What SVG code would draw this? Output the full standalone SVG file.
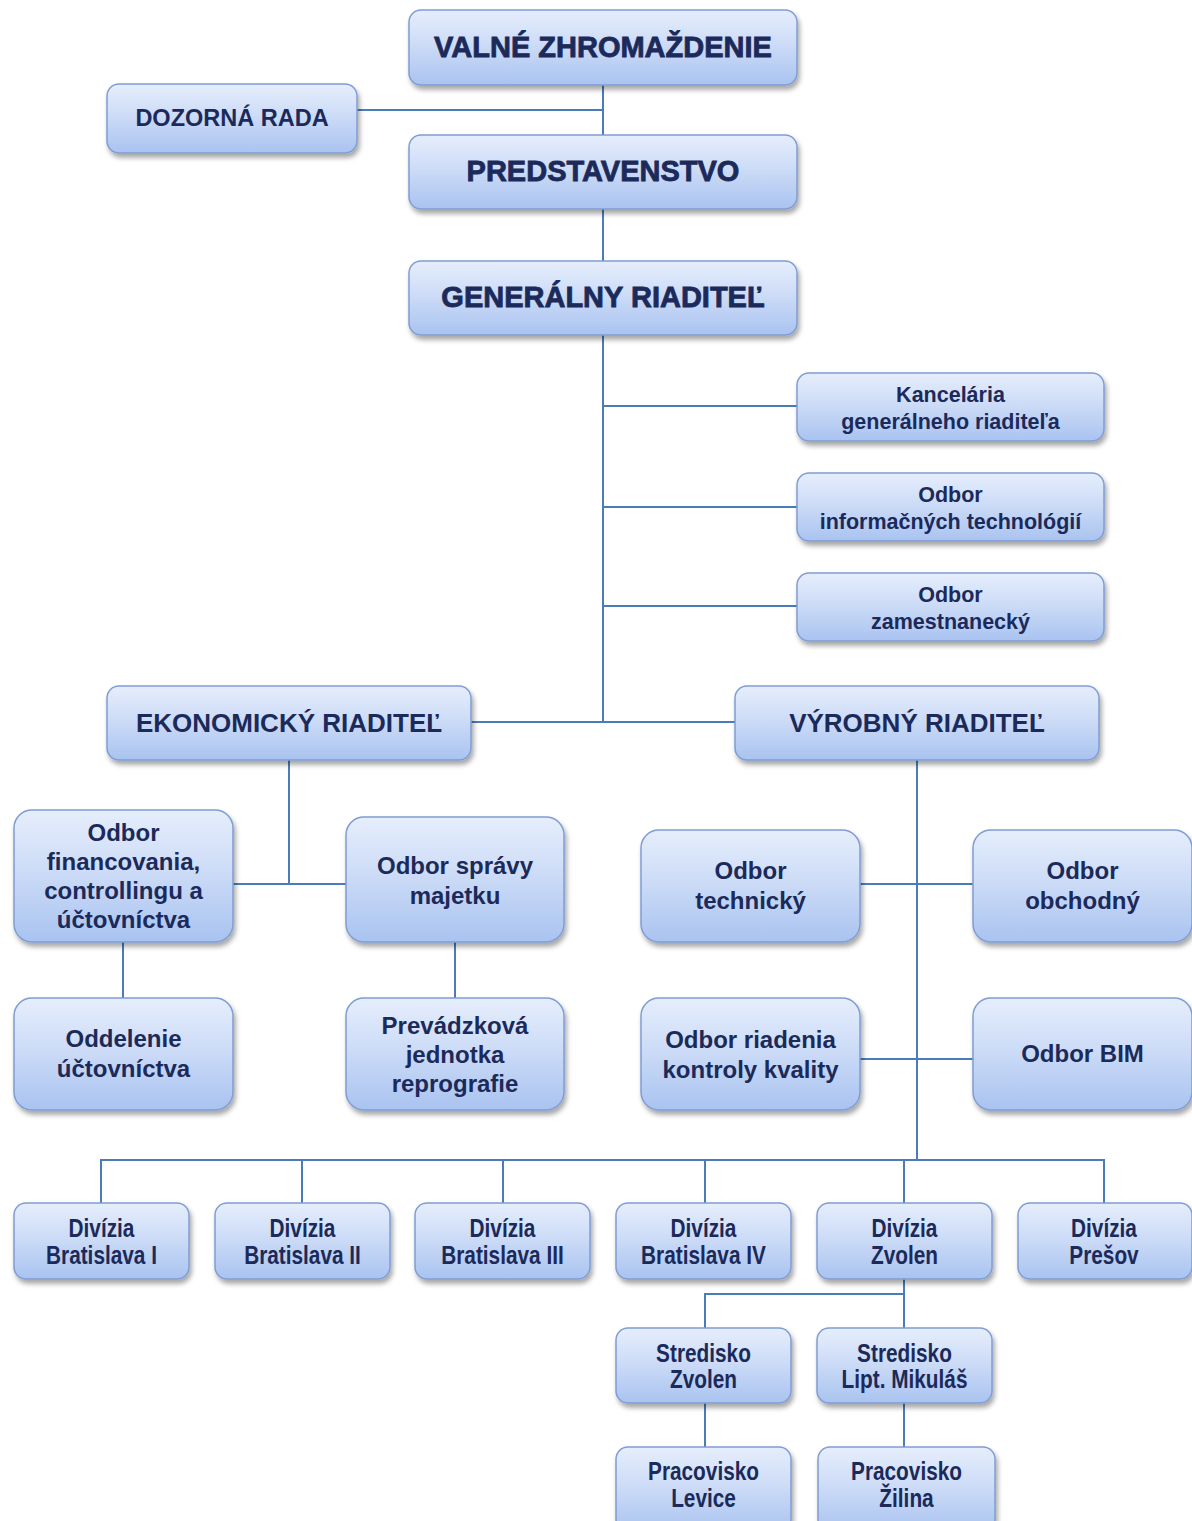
<svg xmlns="http://www.w3.org/2000/svg" width="1192" height="1521" viewBox="0 0 1192 1521">
<defs>
<linearGradient id="g" x1="0" y1="0" x2="0" y2="1">
<stop offset="0" stop-color="#e6eefc"/>
<stop offset="0.45" stop-color="#cddcf7"/>
<stop offset="1" stop-color="#a9c3f0"/>
</linearGradient>
<filter id="sh" x="-10%" y="-10%" width="125%" height="135%">
<feDropShadow dx="2" dy="4" stdDeviation="2.5" flood-color="#000" flood-opacity="0.35"/>
</filter>
<style>
.box{fill:url(#g);stroke:#7f9dd3;stroke-width:1.5;filter:url(#sh)}
.t{font-family:"Liberation Sans",Arial,sans-serif;font-weight:bold;fill:#1b2a5a;text-anchor:middle}
.h1{font-size:29px;stroke:#1b2a5a;stroke-width:0.8}
.h2{font-size:26px}
.h3{font-size:23.5px}
.m{font-size:24px}
.s{font-size:21.5px}
.n{font-size:26px}
.ln{stroke:#4a7cbc;stroke-width:2;fill:none}
</style>
</defs>
<rect width="1192" height="1521" fill="#ffffff"/>
<g id="connectors" class="ln">
<path d="M603,85 V135 M357,110 H603"/>
<path d="M603,209 V261"/>
<path d="M603,335 V722 M471,722 H735"/>
<path d="M603,406 H797 M603,507 H797 M603,606 H797"/>
<path d="M289,760 V884 M233,884 H346"/>
<path d="M123,942 V998 M455,942 V998"/>
<path d="M917,760 V1160 M860,884 H973 M860,1059 H973"/>
<path d="M101,1203 V1160 H1104 V1203 M302,1160 V1203 M503,1160 V1203 M705,1160 V1203 M904,1160 V1203"/>
<path d="M904,1279 V1328 M705,1328 V1294 H904"/>
<path d="M705,1403 V1447 M904,1403 V1447"/>
</g>
<g id="valne"><rect class="box" x="409" y="10" width="388" height="75" rx="12"/><text class="t h1" x="603" y="57">VALNÉ ZHROMAŽDENIE</text></g>
<g id="dozorna"><rect class="box" x="107" y="84" width="250" height="69" rx="12"/><text class="t h3" x="232" y="125.5">DOZORNÁ RADA</text></g>
<g id="predstavenstvo"><rect class="box" x="409" y="135" width="388" height="74" rx="12"/><text class="t h1" x="603" y="181">PREDSTAVENSTVO</text></g>
<g id="generalny"><rect class="box" x="409" y="261" width="388" height="74" rx="12"/><text class="t h1" x="603" y="307">GENERÁLNY RIADITEĽ</text></g>
<g id="kancelaria"><rect class="box" x="797" y="373" width="307" height="68" rx="12"/><text class="t s" x="950.5"><tspan x="950.5" y="401.5">Kancelária</tspan><tspan x="950.5" y="428.5">generálneho riaditeľa</tspan></text></g>
<g id="odbor-it"><rect class="box" x="797" y="473" width="307" height="68" rx="12"/><text class="t s" x="950.5"><tspan x="950.5" y="501.5">Odbor</tspan><tspan x="950.5" y="528.5">informačných technológií</tspan></text></g>
<g id="odbor-zam"><rect class="box" x="797" y="573" width="307" height="68" rx="12"/><text class="t s" x="950.5"><tspan x="950.5" y="601.5">Odbor</tspan><tspan x="950.5" y="628.5">zamestnanecký</tspan></text></g>
<g id="ekonomicky"><rect class="box" x="107" y="686" width="364" height="74" rx="12"/><text class="t h2" x="289" y="732">EKONOMICKÝ RIADITEĽ</text></g>
<g id="vyrobny"><rect class="box" x="735" y="686" width="364" height="74" rx="12"/><text class="t h2" x="917" y="732">VÝROBNÝ RIADITEĽ</text></g>
<g id="financovania"><rect class="box" x="14" y="810" width="219" height="132" rx="18"/><text class="t m"><tspan x="123.5" y="840.5">Odbor</tspan><tspan x="123.5" y="869.5">financovania,</tspan><tspan x="123.5" y="898.5">controllingu a</tspan><tspan x="123.5" y="927.5">účtovníctva</tspan></text></g>
<g id="spravy"><rect class="box" x="346" y="817" width="218" height="125" rx="18"/><text class="t m"><tspan x="455" y="873.5">Odbor správy</tspan><tspan x="455" y="903.5">majetku</tspan></text></g>
<g id="oddelenie"><rect class="box" x="14" y="998" width="219" height="112" rx="18"/><text class="t m"><tspan x="123.5" y="1046.5">Oddelenie</tspan><tspan x="123.5" y="1076.5">účtovníctva</tspan></text></g>
<g id="prevadzkova"><rect class="box" x="346" y="998" width="218" height="112" rx="18"/><text class="t m"><tspan x="455" y="1033.5">Prevádzková</tspan><tspan x="455" y="1062.5">jednotka</tspan><tspan x="455" y="1091.5">reprografie</tspan></text></g>
<g id="technicky"><rect class="box" x="641" y="830" width="219" height="112" rx="18"/><text class="t m"><tspan x="750.5" y="878.5">Odbor</tspan><tspan x="750.5" y="908.5">technický</tspan></text></g>
<g id="obchodny"><rect class="box" x="973" y="830" width="219" height="112" rx="18"/><text class="t m"><tspan x="1082.5" y="878.5">Odbor</tspan><tspan x="1082.5" y="908.5">obchodný</tspan></text></g>
<g id="kvality"><rect class="box" x="641" y="998" width="219" height="112" rx="18"/><text class="t m"><tspan x="750.5" y="1047.5">Odbor riadenia</tspan><tspan x="750.5" y="1077.5">kontroly kvality</tspan></text></g>
<g id="bim"><rect class="box" x="973" y="998" width="219" height="112" rx="18"/><text class="t m" x="1082.5" y="1061.5">Odbor BIM</text></g>
<g id="div-ba1"><rect class="box" x="14" y="1203" width="175" height="76" rx="12"/><text class="t n" transform="translate(101.5,0) scale(0.8,1)"><tspan x="0" y="1237.5">Divízia</tspan><tspan x="0" y="1264.5">Bratislava I</tspan></text></g>
<g id="div-ba2"><rect class="box" x="215" y="1203" width="175" height="76" rx="12"/><text class="t n" transform="translate(302.5,0) scale(0.8,1)"><tspan x="0" y="1237.5">Divízia</tspan><tspan x="0" y="1264.5">Bratislava II</tspan></text></g>
<g id="div-ba3"><rect class="box" x="415" y="1203" width="175" height="76" rx="12"/><text class="t n" transform="translate(502.5,0) scale(0.8,1)"><tspan x="0" y="1237.5">Divízia</tspan><tspan x="0" y="1264.5">Bratislava III</tspan></text></g>
<g id="div-ba4"><rect class="box" x="616" y="1203" width="175" height="76" rx="12"/><text class="t n" transform="translate(703.5,0) scale(0.8,1)"><tspan x="0" y="1237.5">Divízia</tspan><tspan x="0" y="1264.5">Bratislava IV</tspan></text></g>
<g id="div-zv"><rect class="box" x="817" y="1203" width="175" height="76" rx="12"/><text class="t n" transform="translate(904.5,0) scale(0.8,1)"><tspan x="0" y="1237.5">Divízia</tspan><tspan x="0" y="1264.5">Zvolen</tspan></text></g>
<g id="div-po"><rect class="box" x="1018" y="1203" width="174" height="76" rx="12"/><text class="t n" transform="translate(1104,0) scale(0.8,1)"><tspan x="0" y="1237.5">Divízia</tspan><tspan x="0" y="1264.5">Prešov</tspan></text></g>
<g id="str-zv"><rect class="box" x="616" y="1328" width="175" height="75" rx="12"/><text class="t n" transform="translate(703.5,0) scale(0.8,1)"><tspan x="0" y="1361.5">Stredisko</tspan><tspan x="0" y="1388.5">Zvolen</tspan></text></g>
<g id="str-lm"><rect class="box" x="817" y="1328" width="175" height="75" rx="12"/><text class="t n" transform="translate(904.5,0) scale(0.8,1)"><tspan x="0" y="1361.5">Stredisko</tspan><tspan x="0" y="1388.5">Lipt. Mikuláš</tspan></text></g>
<g id="prac-lv"><rect class="box" x="616" y="1447" width="175" height="85" rx="12"/><text class="t n" transform="translate(703.5,0) scale(0.8,1)"><tspan x="0" y="1480.5">Pracovisko</tspan><tspan x="0" y="1507.5">Levice</tspan></text></g>
<g id="prac-za"><rect class="box" x="818" y="1447" width="177" height="85" rx="12"/><text class="t n" transform="translate(906.5,0) scale(0.8,1)"><tspan x="0" y="1480.5">Pracovisko</tspan><tspan x="0" y="1507.5">Žilina</tspan></text></g>
</svg>
